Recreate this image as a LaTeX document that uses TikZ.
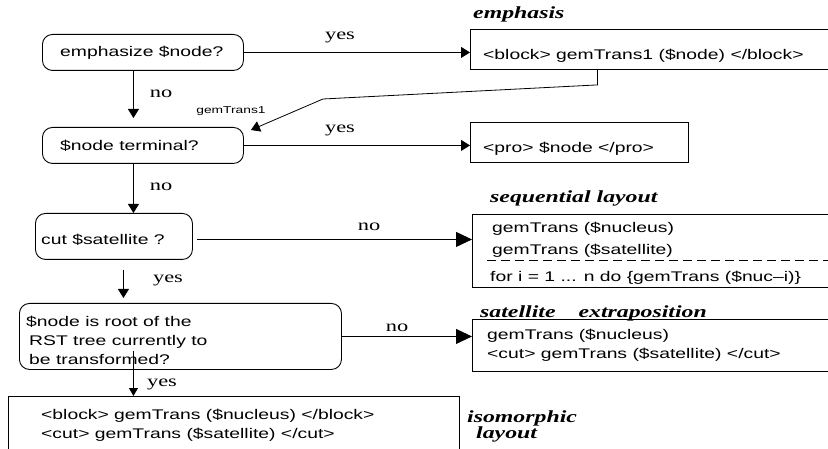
\documentclass[tikz,border=0pt]{standalone}
\usepackage{fontspec}
\setmainfont[FakeStretch=1.38]{Liberation Sans}
\newfontfamily\serifx[FakeStretch=1.4]{Liberation Serif}
\usetikzlibrary{arrows.meta}
\begin{document}
\begin{tikzpicture}[x=1pt,y=-1pt,
  box/.style={draw, line width=0.9pt, inner sep=0pt, anchor=north west},
  rbox/.style={box, rounded corners=10pt},
  txt/.style={anchor=base west, inner sep=0pt, font=\fontsize{14}{19}\selectfont},
  mtxt/.style={anchor=north west, inner sep=0pt, align=left, font=\fontsize{14}{19}\selectfont},
  small/.style={inner sep=0pt, font=\fontsize{10}{12}\selectfont},
  lab/.style={anchor=base, inner sep=0pt, font=\serifx\fontsize{16}{18}\selectfont},
  ttl/.style={anchor=base west, inner sep=0pt, font=\serifx\bfseries\itshape\fontsize{17}{16}\selectfont},
  conn/.style={line width=0.8pt},
  arr/.style={conn, -{Triangle[length=9pt,width=11pt]}},
  bigarr/.style={conn, -{Triangle[length=16pt,width=15pt]}},
]
\clip (0,0) rectangle (828,449);
\fill[white] (0,0) rectangle (828,449);

% decision boxes
\node[rbox, minimum width=201pt, minimum height=36pt] (A) at (42,34) {};
\node[txt] (tA) at (60,57) {emphasize \$node?};
\node[rbox, minimum width=201pt, minimum height=36pt] (B) at (42,127) {};
\node[txt] (tB) at (60,151) {\$node terminal?};
\node[rbox, minimum width=157pt, minimum height=46pt] (C) at (35,213) {};
\node[txt] (tC) at (41,245) {cut \$satellite ?};
\node[rbox, minimum width=322pt, minimum height=66pt] (D) at (19,303) {};
\node[mtxt] (tD) at (26,315.5) {\$node is root of the\\\hspace*{3pt}RST tree currently to\\\hspace*{3pt}be transformed?};

% result boxes
\node[box, minimum width=357.5pt, minimum height=40pt] (E) at (470,29) {};
\node[ttl] (lE) at (473,19) {emphasis};
\node[txt] (tE) at (483,60) {<block> gemTrans1 (\$node) </block>};

\node[box, minimum width=218pt, minimum height=40pt] (P) at (470,122) {};
\node[txt] (tP) at (483,153) {<pro> \$node </pro>};

\node[box, minimum width=355.5pt, minimum height=73pt] (S) at (472,214) {};
\node[ttl] (lS) at (490,203) {sequential layout};
\node[txt] (tS1) at (492,233) {gemTrans (\$nucleus)};
\node[txt] (tS2) at (492,255) {gemTrans (\$satellite)};
\draw[line width=0.8pt, dash pattern=on 9pt off 5pt] (487,260) -- (828,260);
\node[txt] (tS3) at (490,282) {for i = 1 ... n do \{gemTrans (\$nuc–i)\}};

\node[box, minimum width=355.5pt, minimum height=52pt] (T) at (472,319) {};
\node[ttl] (lT) at (480,318) {satellite\hspace{23pt}extraposition};
\node[mtxt] (tT) at (487,328.5) {gemTrans (\$nucleus)\\<cut> gemTrans (\$satellite) </cut>};

\node[box, minimum width=451pt, minimum height=70pt] (I) at (8,396) {};
\node[mtxt] (tI) at (41,408.5) {<block> gemTrans (\$nucleus) </block>\\<cut> gemTrans (\$satellite) </cut>};
\node[anchor=north west, inner sep=0pt, align=left, font=\serifx\bfseries\itshape\fontsize{17}{16}\selectfont] (lI) at (467,410.5) {isomorphic\\\hspace*{9pt}layout};

% connectors
\draw[arr] (A.east) -- (A.east -| E.west);
\node[lab] (y1) at (340,40) {yes};
\draw[arr] ([xshift=-9.5pt]A.south) -- ([xshift=-9.5pt,yshift=9pt]B.north);
\node[lab] (n1) at (161,98) {no};

\draw[arr] ([xshift=-51.75pt]E.south) -- ++(0,15) -- (323,99) -- ([xshift=7pt,yshift=-3pt]B.north east);
\node[small] (g1) at (231,111) {gemTrans1};

\draw[arr] (B.east) -- (B.east -| P.west);
\node[lab] (y2) at (340,133) {yes};
\draw[arr] ([xshift=-9.5pt]B.south) -- ([xshift=19.5pt]C.north);
\node[lab] (n2) at (161,191) {no};

\draw[bigarr] ([xshift=4pt,yshift=-3pt]C.east) -- ([yshift=-3pt]C.east -| S.west);
\node[lab] (n3) at (369,231) {no};
\draw[arr] ([xshift=9.5pt,yshift=-10pt]C.south) -- ([xshift=-57pt,yshift=5pt]D.north);
\node[lab] (y3) at (168,283) {yes};

\draw[bigarr] (D.east) -- (D.east -| T.west);
\node[lab] (n4) at (397,331) {no};
\draw[conn, -{Triangle[length=8pt,width=9pt]}] ([xshift=-47pt,yshift=19pt]D.south) -- ([xshift=-100.5pt]I.north);
\node[lab] (y4) at (162,386) {yes};
\end{tikzpicture}
\end{document}
